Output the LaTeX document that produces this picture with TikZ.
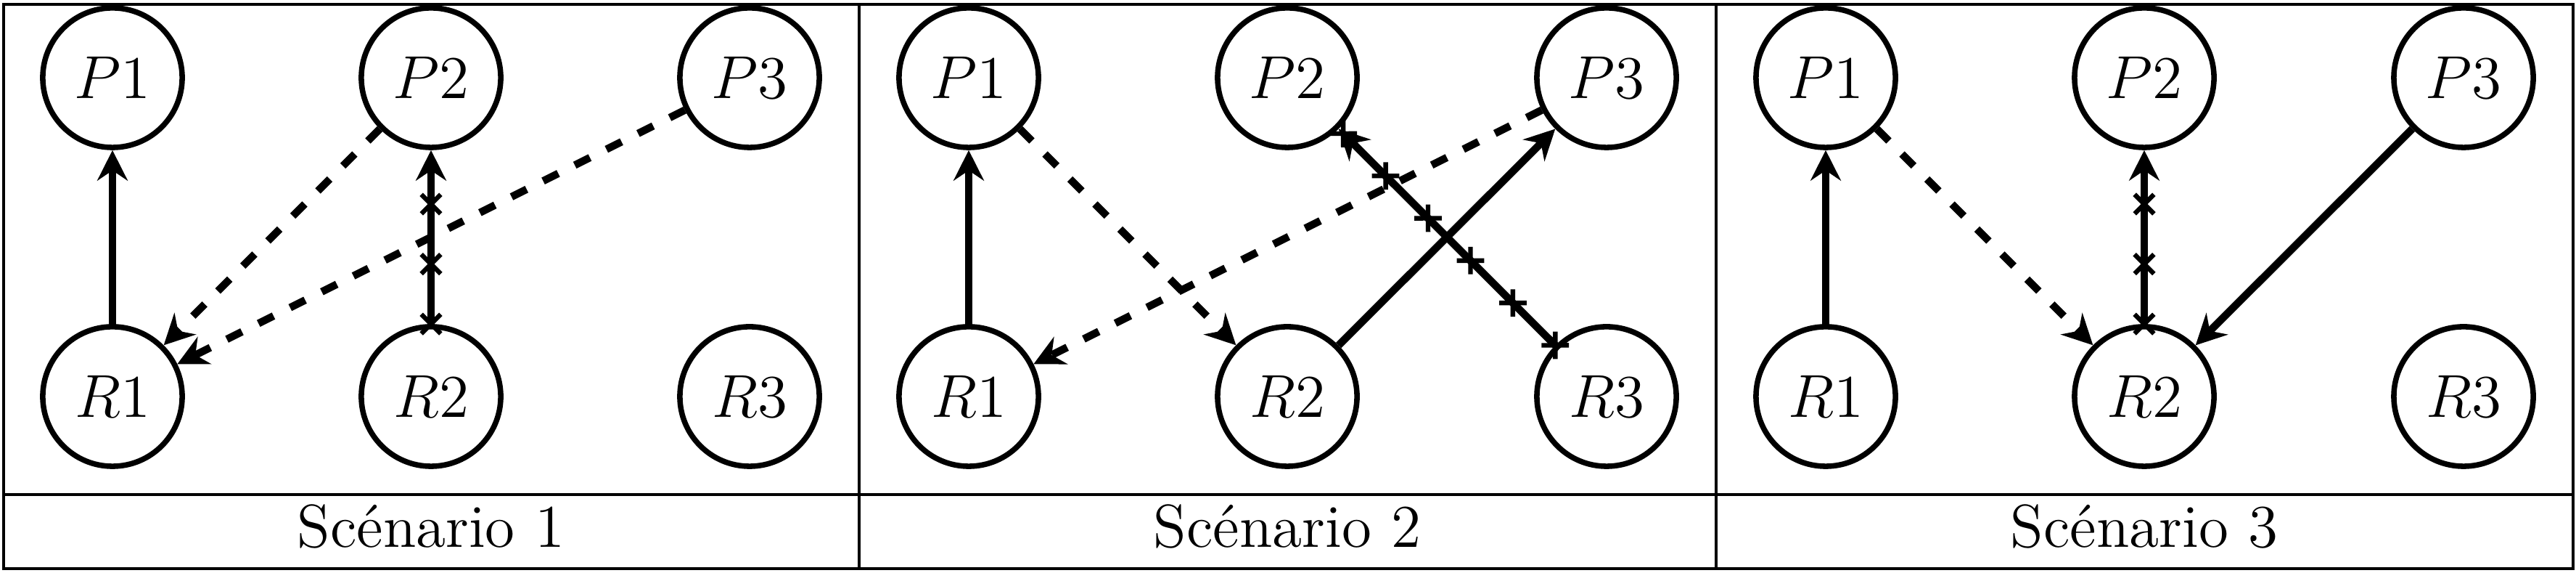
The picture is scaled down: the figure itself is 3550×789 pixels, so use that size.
\documentclass[tikz,border=0pt]{standalone}
\usetikzlibrary{arrows.meta,decorations.markings}
\begin{document}
\begin{tikzpicture}[x=0.0060606cm, y=-0.0060606cm,
  state/.style={circle, draw, line width=1.3pt, minimum size=1.164cm, inner sep=0pt, font=\Large},
  conn/.style={line width=1.8pt, -{Stealth[length=7.2pt,width=7.2pt,inset=2.4pt]}},
  dashconn/.style={conn, dash pattern=on 4pt off 4.4pt},
  xmarked/.style={postaction={decorate}, decoration={markings,
     mark=between positions 0 and 1 step 0.5cm with {\draw[-, line width=1.1pt, solid]
       (-2.3pt,-2.3pt)--(2.3pt,2.3pt) (-2.3pt,2.3pt)--(2.3pt,-2.3pt);}}},
  frame/.style={line width=0.55pt},
  caption/.style={font=\Large, anchor=base}]
\useasboundingbox (0,0) rectangle (3550,789);
% frame
\draw[frame] (5,6) rectangle (3546,783);
\draw[frame] (5,681) -- (3546,681);
\draw[frame] (1184,6) -- (1184,783);
\draw[frame] (2365,6) -- (2365,783);
% scenario 1
\node[state] (P1a) at (155,107) {$P1$};
\node[state] (P2a) at (594,107) {$P2$};
\node[state] (P3a) at (1033,107) {$P3$};
\node[state] (R1a) at (155,546) {$R1$};
\node[state] (R2a) at (594,546) {$R2$};
\node[state] (R3a) at (1033,546) {$R3$};
\draw[conn] (R1a) -- (P1a);
\draw[dashconn] (P2a) -- (R1a);
\draw[dashconn] (P3a) -- (R1a);
\draw[conn, xmarked] (R2a) -- (P2a);
% scenario 2
\node[state] (P1b) at (1335,107) {$P1$};
\node[state] (P2b) at (1774,107) {$P2$};
\node[state] (P3b) at (2214,107) {$P3$};
\node[state] (R1b) at (1335,546) {$R1$};
\node[state] (R2b) at (1774,546) {$R2$};
\node[state] (R3b) at (2214,546) {$R3$};
\draw[conn] (R1b) -- (P1b);
\draw[dashconn] (P1b) -- (R2b);
\draw[dashconn] (P3b) -- (R1b);
\draw[conn] (R2b) -- (P3b);
\draw[conn, xmarked] (R3b) -- (P2b);
% scenario 3
\node[state] (P1c) at (2516,107) {$P1$};
\node[state] (P2c) at (2955,107) {$P2$};
\node[state] (P3c) at (3395,107) {$P3$};
\node[state] (R1c) at (2516,546) {$R1$};
\node[state] (R2c) at (2955,546) {$R2$};
\node[state] (R3c) at (3395,546) {$R3$};
\draw[conn] (R1c) -- (P1c);
\draw[dashconn] (P1c) -- (R2c);
\draw[conn, xmarked] (R2c) -- (P2c);
\draw[conn] (P3c) -- (R2c);
% captions
\node[caption] (c1) at (594,754) {Scénario 1};
\node[caption] (c2) at (1774,754) {Scénario 2};
\node[caption] (c3) at (2955,754) {Scénario 3};
\end{tikzpicture}
\end{document}
